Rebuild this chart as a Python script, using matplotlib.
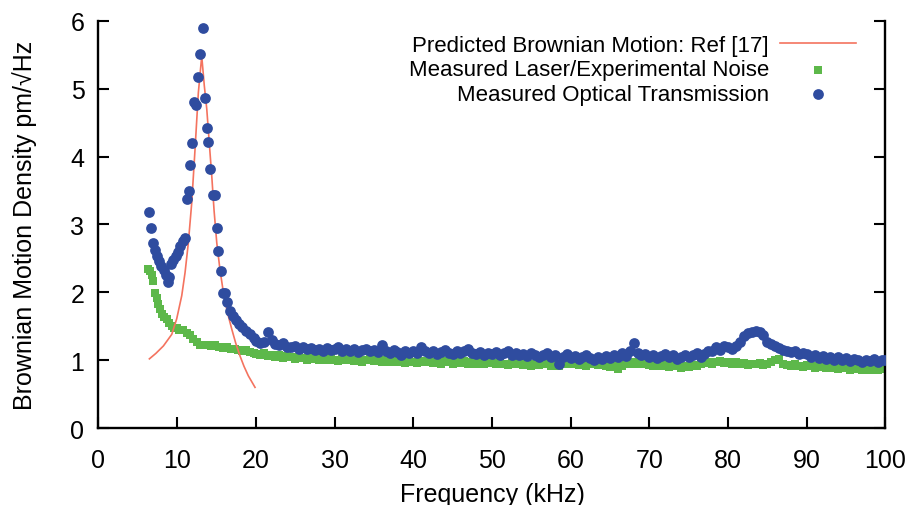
import numpy as np
import matplotlib
matplotlib.use("Agg")
from matplotlib import pyplot as plt

plt.rcParams['font.family'] = ['Liberation Sans', 'DejaVu Sans']

# Predicted Brownian motion curve
pred_freq = [6.48, 7.3, 8.26, 9.32, 9.95, 10.59, 11.01, 11.43, 11.86, 12.28, 12.7, 13.13,
             13.45, 13.77, 14.1, 14.4, 14.7, 15.04, 15.45, 15.88, 16.4, 16.94, 17.45, 18.0,
             18.5, 19.05, 19.9]
pred_val = [1.02, 1.10, 1.21, 1.38, 1.61, 1.95, 2.29, 2.73, 3.32, 4.11, 4.94, 5.48,
            5.05, 4.70, 4.18, 3.72, 3.20, 2.73, 2.33, 2.00, 1.70, 1.46, 1.25, 1.06,
            0.91, 0.77, 0.60]

# Measured optical transmission, low-frequency part
opt_freq_low = [6.4, 6.65, 6.9, 7.15, 7.4, 7.7, 8.0, 8.3, 8.6, 8.85,
                8.95, 9.2, 9.5, 9.8, 10.1, 10.4, 10.7, 11.0, 11.2, 11.45,
                11.7, 11.95, 12.15, 12.45, 12.7, 12.95, 13.25, 13.5, 13.75, 13.95,
                14.2, 14.5, 14.8, 15.05, 15.25, 15.55, 15.8, 16.05, 16.3, 16.7,
                17.1, 17.5, 17.9, 18.3, 18.8, 19.3, 19.8]
opt_val_low = [3.19, 2.95, 2.73, 2.62, 2.54, 2.46, 2.39, 2.33, 2.26, 2.15,
               2.22, 2.42, 2.48, 2.54, 2.60, 2.68, 2.75, 2.80, 3.38, 3.49,
               3.88, 4.20, 4.81, 4.76, 5.17, 5.51, 5.89, 4.86, 4.42, 4.22,
               3.82, 3.43, 3.43, 2.95, 2.61, 2.31, 1.99, 1.99, 1.85, 1.73,
               1.65, 1.59, 1.53, 1.49, 1.43, 1.38, 1.33]

# Measured laser / experimental noise, low-frequency part
noise_freq_low = [6.35, 6.6, 6.8, 7.0, 7.2, 7.4, 7.6, 7.8, 8.05, 8.3,
                  8.7, 9.0, 9.3, 9.6, 9.95, 10.3, 10.8, 11.3, 11.6, 12.0,
                  12.5, 12.9, 13.3, 13.8, 14.3, 14.8, 15.3, 15.8, 16.3, 16.8,
                  17.3, 17.8, 18.3, 18.8, 19.3, 19.8]
noise_val_low = [2.35, 2.31, 2.25, 2.16, 1.99, 1.91, 1.83, 1.75, 1.68, 1.64,
                 1.61, 1.55, 1.51, 1.48, 1.47, 1.45, 1.44, 1.40, 1.37, 1.31,
                 1.27, 1.23, 1.22, 1.23, 1.21, 1.22, 1.20, 1.18, 1.19, 1.16,
                 1.17, 1.15, 1.14, 1.15, 1.12, 1.11]

# 20-100 kHz, sampled every 0.5 kHz
freq_high = np.arange(20.0, 100.01, 0.5)
opt_val_high = [
    1.28, 1.26, 1.27, 1.42, 1.30, 1.24, 1.22, 1.25, 1.20, 1.19,
    1.21, 1.17, 1.19, 1.16, 1.18, 1.15, 1.17, 1.14, 1.18, 1.15,
    1.17, 1.19, 1.14, 1.16, 1.13, 1.16, 1.12, 1.15, 1.17, 1.13,
    1.15, 1.12, 1.22, 1.14, 1.11, 1.15, 1.12, 1.08, 1.13, 1.10,
    1.14, 1.11, 1.20, 1.13, 1.10, 1.14, 1.09, 1.12, 1.15, 1.11,
    1.09, 1.13, 1.10, 1.14, 1.17, 1.11, 1.09, 1.12, 1.08, 1.11,
    1.09, 1.12, 1.07, 1.10, 1.13, 1.08, 1.11, 1.07, 1.09, 1.06,
    1.10, 1.07, 1.05, 1.08, 1.11, 1.04, 1.07, 0.95, 1.05, 1.09,
    1.03, 1.06, 1.02, 1.05, 1.08, 1.03, 1.01, 1.05, 1.02, 1.06,
    1.03, 1.07, 1.04, 1.10, 1.06, 1.13, 1.26, 1.11, 1.07, 1.09,
    1.05, 1.08, 1.03, 1.06, 1.09, 1.04, 1.07, 1.02, 1.05, 1.08,
    1.04, 1.07, 1.10, 1.05, 1.09, 1.13, 1.13, 1.19, 1.15, 1.21,
    1.19, 1.16, 1.21, 1.27, 1.35, 1.40, 1.42, 1.43, 1.41, 1.37,
    1.27, 1.24, 1.21, 1.18, 1.15, 1.14, 1.12, 1.13, 1.09, 1.10,
    1.09, 1.05, 1.07, 1.03, 1.06, 1.02, 1.05, 1.01, 1.04, 1.00,
    1.03, 0.99, 1.02, 1.00, 0.98, 1.01, 0.99, 1.02, 0.98, 1.00,
    1.01]
noise_val_high = [
    1.09, 1.07, 1.10, 1.06, 1.08, 1.05, 1.07, 1.03, 1.06, 1.04,
    1.02, 1.05, 1.03, 1.01, 1.04, 1.02, 1.00, 1.03, 1.01, 1.04,
    1.01, 0.99, 1.02, 1.00, 1.03, 0.99, 1.01, 0.98, 1.00, 1.02,
    0.99, 1.01, 0.97, 1.00, 0.98, 1.01, 0.97, 0.99, 0.96, 1.00,
    0.98, 0.96, 0.99, 0.97, 1.00, 0.96, 0.98, 0.95, 0.99, 0.97,
    0.95, 0.98, 0.96, 0.99, 0.95, 0.97, 0.94, 0.97, 0.95, 0.98,
    0.96, 0.94, 0.97, 0.95, 0.93, 0.96, 0.94, 0.97, 0.93, 0.95,
    0.92, 0.95, 0.93, 0.96, 0.94, 0.92, 0.95, 0.91, 0.94, 0.97,
    0.94, 0.96, 0.93, 0.95, 0.92, 0.94, 0.96, 0.93, 0.95, 0.92,
    0.90, 0.93, 0.87, 0.91, 0.94, 0.97, 0.95, 0.98, 0.94, 0.96,
    0.93, 0.91, 0.94, 0.92, 0.95, 0.90, 0.93, 0.91, 0.89, 0.92,
    0.90, 0.93, 0.91, 0.94, 0.96, 0.98, 0.95, 0.97, 0.99, 0.96,
    0.98, 0.95, 0.97, 0.94, 0.96, 0.93, 0.95, 0.94, 0.96, 0.93,
    0.95, 0.97, 1.00, 1.02, 0.95, 0.93, 0.91, 0.94, 0.92, 0.90,
    0.93, 0.91, 0.89, 0.92, 0.90, 0.88, 0.91, 0.89, 0.87, 0.90,
    0.88, 0.86, 0.89, 0.87, 0.85, 0.88, 0.86, 0.89, 0.85, 0.87,
    0.88]

labels = ['Predicted Brownian Motion: Ref [17]',
          'Measured Laser/Experimental Noise',
          'Measured Optical Transmission']

x_ticks = np.arange(0, 101, 10)
y_ticks = np.arange(0, 7, 1)

BLUE = '#2f4c9f'
GREEN = '#5db84a'
RED = '#f4735f'

opt_freq = np.concatenate([opt_freq_low, freq_high])
opt_val = np.concatenate([opt_val_low, opt_val_high])
noise_freq = np.concatenate([noise_freq_low, freq_high])
noise_val = np.concatenate([noise_val_low, noise_val_high])

fig = plt.figure(figsize=(9.11, 5.06), dpi=100)
ax = fig.add_axes([0.108, 0.152, 0.864, 0.805])

sq = ax.scatter(noise_freq, noise_val, marker='s', s=40, color=GREEN, linewidths=0, zorder=1)
line, = ax.plot(pred_freq, pred_val, color=RED, lw=1.2, zorder=2)
circ = ax.scatter(opt_freq, opt_val, marker='o', s=60, color=BLUE, linewidths=0, zorder=3)

ax.set_xlim(0, 100)
ax.set_ylim(0, 6)
ax.set_xticks(x_ticks)
ax.set_yticks(y_ticks)

ax.spines['top'].set_visible(False)
for side in ['left', 'right', 'bottom']:
    ax.spines[side].set_linewidth(1.7)

ax.tick_params(axis='both', direction='in', length=8, width=1.5, labelsize=18, pad=10)
ax.tick_params(axis='y', right=True)
ax.tick_params(axis='x', top=False, pad=14.5)

ax.set_xlabel('Frequency (kHz)', fontsize=18, labelpad=7)
ax.set_ylabel('Brownian Motion Density pm/\u221aHz', fontsize=18, labelpad=24)

ax.legend([line, sq, circ], labels, loc='upper right', bbox_to_anchor=(0.962, 0.965),
          frameon=False, markerfirst=False, scatterpoints=1, fontsize=16,
          handlelength=3.4, handletextpad=0.5, labelspacing=0.15,
          borderpad=0, borderaxespad=0)

fig.savefig('out.png', dpi=100)
